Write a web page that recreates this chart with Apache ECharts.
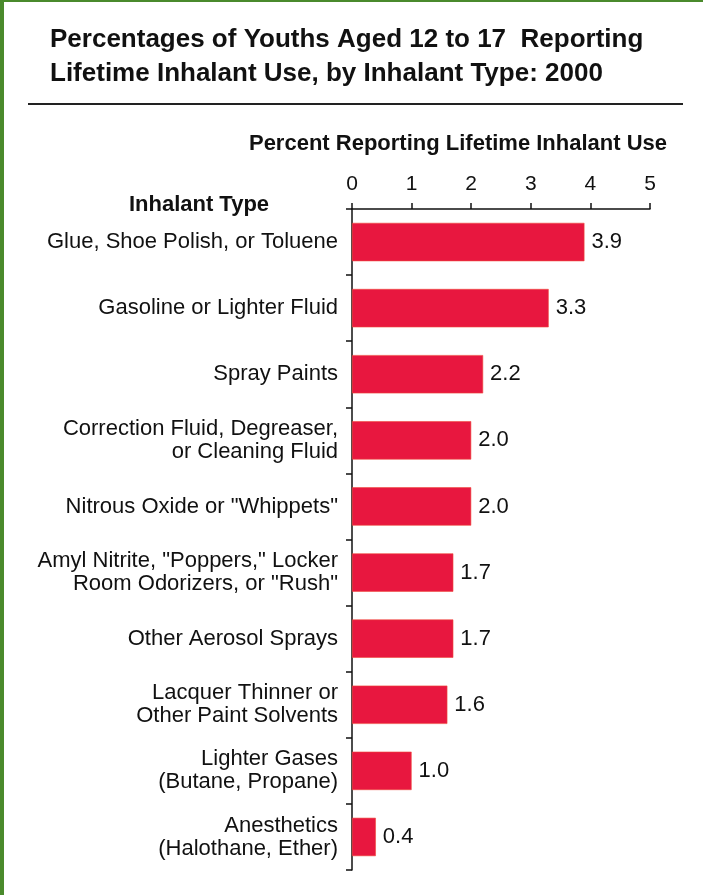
<!DOCTYPE html>
<html>
<head>
<meta charset="utf-8">
<style>
  html, body { margin: 0; padding: 0; background: #ffffff; }
  #chart { width: 703px; height: 895px; }
</style>
<script src="https://cdn.jsdelivr.net/npm/echarts@6/dist/echarts.min.js"></script>
</head>
<body>
<div id="chart"></div>
<script>
// Inhalant categories, top to bottom
const categories = [
  'Glue, Shoe Polish, or Toluene',
  'Gasoline or Lighter Fluid',
  'Spray Paints',
  'Correction Fluid, Degreaser,\nor Cleaning Fluid',
  'Nitrous Oxide or "Whippets"',
  'Amyl Nitrite, "Poppers," Locker\nRoom Odorizers, or "Rush"',
  'Other Aerosol Sprays',
  'Lacquer Thinner or\nOther Paint Solvents',
  'Lighter Gases\n(Butane, Propane)',
  'Anesthetics\n(Halothane, Ether)'
];

// Percent reporting lifetime use
const percents = [3.9, 3.3, 2.2, 2.0, 2.0, 1.7, 1.7, 1.6, 1.0, 0.4];

// Percent axis ticks
const tickValues = [0, 1, 2, 3, 4, 5];

const FONT = '"Liberation Sans", Arial, sans-serif';
const INK = '#111111';

const chart = echarts.init(document.getElementById('chart'), null, { renderer: 'canvas' });

chart.setOption({
  backgroundColor: '#ffffff',
  animation: false,
  textStyle: { fontFamily: FONT, color: INK },
  graphic: [
    // green frame edges
    { type: 'rect', shape: { x: 0, y: 0, width: 4, height: 895 }, style: { fill: '#4a8a2c' } },
    { type: 'rect', shape: { x: 0, y: 0, width: 703, height: 2 }, style: { fill: '#4a8a2c' } },
    {
      type: 'text', x: 50, y: 23,
      style: {
        text: 'Percentages of Youths Aged 12 to 17  Reporting\nLifetime Inhalant Use, by Inhalant Type: 2000',
        font: 'bold 26px ' + FONT, fill: INK, lineHeight: 34
      }
    },
    { type: 'rect', shape: { x: 28, y: 103, width: 655, height: 2 }, style: { fill: '#222222' } },
    {
      type: 'text', x: 458, y: 144,
      style: {
        text: 'Percent Reporting Lifetime Inhalant Use', font: 'bold 22px ' + FONT,
        fill: INK, align: 'center', verticalAlign: 'middle'
      }
    },
    {
      type: 'text', x: 199, y: 205,
      style: {
        text: 'Inhalant Type', font: 'bold 22px ' + FONT,
        fill: INK, align: 'center', verticalAlign: 'middle'
      }
    }
  ],
  grid: { left: 352, right: 53, top: 209, bottom: 25, containLabel: false },
  xAxis: {
    type: 'value', position: 'top',
    min: tickValues[0], max: tickValues[tickValues.length - 1], interval: 1,
    axisLine: { show: true, lineStyle: { color: INK, width: 1.5 } },
    axisTick: { show: true, length: 6, lineStyle: { color: INK, width: 1.5 } },
    axisLabel: { margin: 14, fontSize: 21, color: INK, fontFamily: FONT },
    splitLine: { show: false }
  },
  yAxis: {
    type: 'category', inverse: true, data: categories,
    axisLine: { show: true, lineStyle: { color: INK, width: 1.5 } },
    axisTick: { show: true, length: 6, lineStyle: { color: INK, width: 1.5 } },
    axisLabel: { margin: 14, fontSize: 22, color: INK, fontFamily: FONT, lineHeight: 23, align: 'right' }
  },
  series: [{
    type: 'bar',
    data: percents,
    barWidth: '58%',
    itemStyle: { color: '#e8173f', borderColor: '#f0493c', borderWidth: 0.6 },
    label: {
      show: true, position: 'right', distance: 7,
      fontSize: 22, color: INK, fontFamily: FONT,
      formatter: p => p.value.toFixed(1)
    }
  }]
});
</script>
</body>
</html>
